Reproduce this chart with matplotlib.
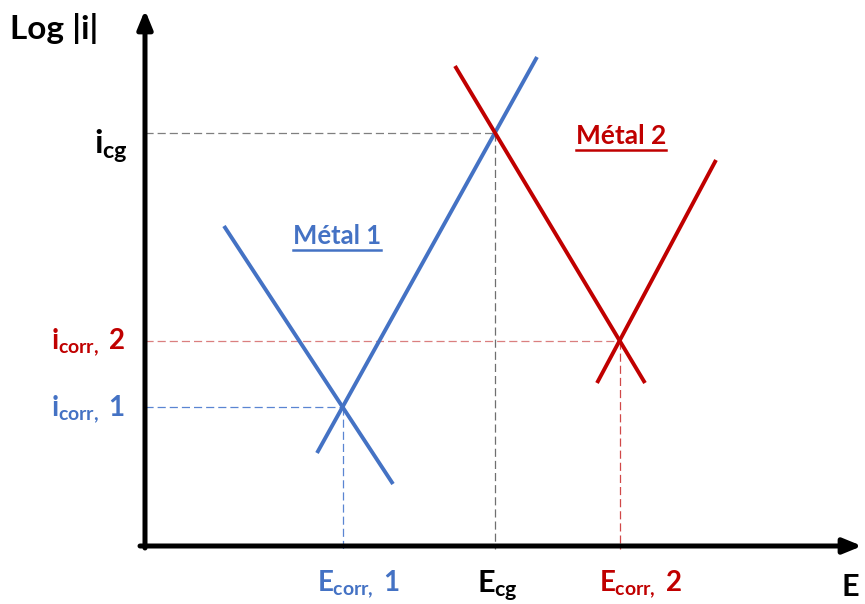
import numpy as np
import matplotlib
matplotlib.use("Agg")
import matplotlib.pyplot as plt
from matplotlib.lines import Line2D

plt.rcParams['font.family'] = ['Lato', 'DejaVu Sans']
plt.rcParams['font.weight'] = 'bold'
plt.rcParams['mathtext.fontset'] = 'custom'
plt.rcParams['mathtext.rm'] = 'Lato:bold'
plt.rcParams['mathtext.it'] = 'Lato:bold'
plt.rcParams['mathtext.bf'] = 'Lato:bold'

# schematic Tafel lines: (E, log|i|) end points, arbitrary units
metal1_anodic_E = [172, 392]
metal1_anodic_logi = [93, 489]
metal1_cathodic_E = [79, 248]
metal1_cathodic_logi = [320, 62]
metal2_anodic_E = [452, 571]
metal2_anodic_logi = [163, 386]
metal2_cathodic_E = [310, 500]
metal2_cathodic_logi = [480, 163]

E_max = 717
logi_max = 536

blue = '#4472C4'
red = '#C00000'


def crossing(e1, l1, e2, l2):
    # intersection of two straight lines given by two points each
    s1 = (l1[1] - l1[0]) / (e1[1] - e1[0])
    s2 = (l2[1] - l2[0]) / (e2[1] - e2[0])
    e = (l2[0] - l1[0] + s1 * e1[0] - s2 * e2[0]) / (s1 - s2)
    return e, l1[0] + s1 * (e - e1[0])


E1, i1 = crossing(metal1_anodic_E, metal1_anodic_logi, metal1_cathodic_E, metal1_cathodic_logi)
E2, i2 = crossing(metal2_anodic_E, metal2_anodic_logi, metal2_cathodic_E, metal2_cathodic_logi)
Ecg, icg = crossing(metal1_anodic_E, metal1_anodic_logi, metal2_cathodic_E, metal2_cathodic_logi)

fig = plt.figure(figsize=(8.65, 6.04), dpi=100)
ax = fig.add_axes([0, 0, 1, 1])
ax.set_xlim(-145, 720)
ax.set_ylim(-58, 546)
ax.axis('off')

# dashed guide lines
dash = (0, (6.5, 3.2))
for (e, i, ch, cv) in [(E1, i1, '#5A85D2', '#5A85D2'),
                       (E2, i2, '#DA7F7F', '#D04848'),
                       (Ecg, icg, '#7F7F7F', '#6F6F6F')]:
    ax.plot([0, e], [i, i], ls=dash, lw=0.9, color=ch)
    ax.plot([e, e], [i, -3], ls=dash, lw=0.9, color=cv)

for e, l, c in [(metal1_anodic_E, metal1_anodic_logi, blue),
                (metal1_cathodic_E, metal1_cathodic_logi, blue),
                (metal2_anodic_E, metal2_anodic_logi, red),
                (metal2_cathodic_E, metal2_cathodic_logi, red)]:
    ax.plot(e, l, color=c, lw=2.8, solid_capstyle='butt')

# axes with arrows
arrow = dict(arrowstyle='-|>,head_length=1.1,head_width=0.45', lw=3.6,
             color='black', shrinkA=0, shrinkB=0)
ax.annotate('', xy=(0, logi_max), xytext=(0, -2), arrowprops=arrow)
ax.annotate('', xy=(E_max, 0), xytext=(-5, 0), arrowprops=arrow)

ax.text(-135, 517, 'Log |i|', fontsize=24, ha='left', va='center')
ax.text(850 - 145, -41, 'E', fontsize=22, ha='center', va='center')

ax.text(-17, icg - 14, r'$i_{cg}$', fontsize=24, ha='right', va='center', color='black')
ax.text(-20, i2 - 2, r'$i_{corr,}$ 2', fontsize=20, ha='right', va='center', color=red)
ax.text(-20, i1 - 2, r'$i_{corr,}$ 1', fontsize=20, ha='right', va='center', color=blue)

ax.text(E1 + 16, -38, r'$E_{corr,}$ 1', fontsize=20, ha='center', va='center', color=blue)
ax.text(Ecg + 2, -40, r'$E_{cg}$', fontsize=22, ha='center', va='center', color='black')
ax.text(E2 + 21, -38, r'$E_{corr,}$ 2', fontsize=20, ha='center', va='center', color=red)

t1 = ax.text(192, 310, 'Métal 1', fontsize=18.5, ha='center', va='center', color=blue)
t2 = ax.text(476, 410, 'Métal 2', fontsize=19, ha='center', va='center', color=red)

# underline the metal labels
fig.canvas.draw()
inv = fig.transFigure.inverted()
for t, c in [(t1, blue), (t2, red)]:
    bb = t.get_window_extent().transformed(inv)
    fig.add_artist(Line2D([bb.x0, bb.x1], [bb.y0 - 0.004, bb.y0 - 0.004],
                          transform=fig.transFigure, color=c, lw=1.8))

fig.savefig('out.png', dpi=100)
